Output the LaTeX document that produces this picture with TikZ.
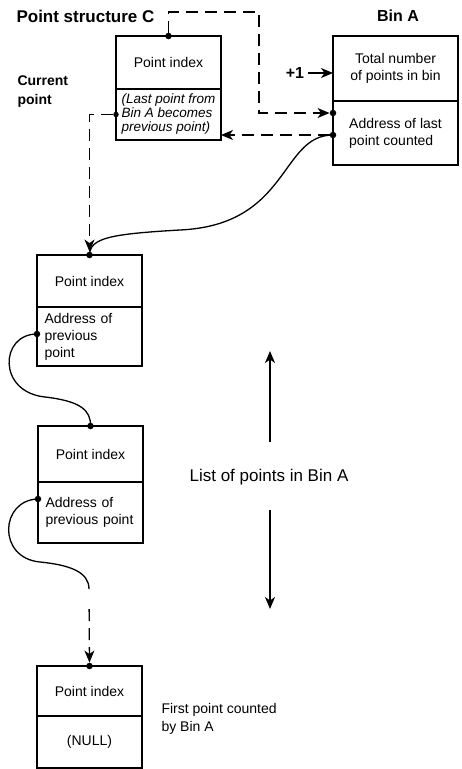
\documentclass[tikz,border=0pt]{standalone}
\usepackage{fontspec}
\setmainfont{Liberation Sans}
\usepackage{tikz}
\usetikzlibrary{arrows.meta, positioning, calc}
\newcommand{\txt}{\fontsize{14}{17}\selectfont}
\newcommand{\bigtxt}{\fontsize{17}{20}\selectfont}

\begin{document}
\begin{tikzpicture}[x=1pt,y=-1pt,
	cell/.style={draw,line width=1.2pt,minimum width=105pt,outer sep=0pt,inner sep=2pt,font=\txt},
	bincell/.style={cell,line width=2.2pt,minimum width=125pt},
	dot/.style={circle,fill,inner sep=0pt,minimum size=6.5pt},
	head/.style={font=\bfseries\bigtxt},
	dashline/.style={line width=1.3pt,dash pattern=on 12pt off 7pt},
	link/.style={line width=1.3pt},
	tip/.style={-{Stealth[length=12pt,width=10pt,inset=3.5pt]}}]
\useasboundingbox (0,0) rectangle (461,769);
% point structure C and bin A
\node[cell,minimum height=53pt,anchor=north west] (cIdx) at (116,36) {Point index};
\node[cell,minimum height=51pt,below=0pt of cIdx,align=left,font=\fontsize{13.5}{14}\selectfont\itshape] (cAddr) {(Last point from\\Bin A becomes\\previous point)};
\node[bincell,minimum height=65pt,anchor=north west,align=center] (binTop) at (333,36) {Total number\\of points in bin};
\node[bincell,minimum height=64pt,below=0pt of binTop,align=left] (binAddr) {Address of last\\point counted};
\node[head,anchor=west] (titleC) at (13,16) {Point structure C};
\node[head,font=\bfseries\fontsize{16}{19}\selectfont] (titleA) at (398,16) {Bin A};
\node[anchor=west,align=left,font=\bfseries\fontsize{14}{19}\selectfont] (cur) at (14,92) {Current\\point};
\node[font=\bfseries\fontsize{16}{19}\selectfont] (plus) at (295,73) {+1};
% list of points
\node[cell,minimum height=52pt,anchor=north west] (idx1) at (37,255) {Point index};
\node[cell,minimum height=59pt,below=0pt of idx1,text width=90pt,align=left] (addr1) {Address of\\previous\\point};
\node[cell,minimum height=56pt,anchor=north west] (idx2) at (38,426) {Point index};
\node[cell,minimum height=61pt,below=0pt of idx2,text width=90pt,align=left] (addr2) {Address of\\previous point};
\node[cell,minimum height=50pt,anchor=north west] (idx3) at (37,666) {Point index};
\node[cell,minimum height=52pt,below=0pt of idx3] (addr3) {(NULL)};
\node[font=\bigtxt] (lst) at (269,477) {List of points in Bin A};
\node[anchor=west,align=left,font=\fontsize{14}{18}\selectfont] (first) at (158,719) {First point counted\\by Bin A};
% dots
\node[dot] (dC) at (cIdx.north) {};
\node[dot,minimum size=5.5pt] (dCL) at (cAddr.west) {};
\node[dot] (dA1) at ([yshift=-12pt]binAddr.north west) {};
\node[dot] (dA2) at ([yshift=-34pt]binAddr.north west) {};
\node[dot] (d1) at (idx1.north) {};
\node[dot] (d1L) at ([yshift=-27pt]addr1.north west) {};
\node[dot] (d2) at (idx2.north) {};
\node[dot] (d2L) at ([yshift=-17pt]addr2.north west) {};
\node[dot] (d3) at (idx3.north) {};
\coordinate (tr) at (259,12);
\coordinate (g2) at (89,589);
\coordinate (upEnd) at (270,351);
\coordinate (upStart) at (270,442);
\coordinate (dnStart) at (270,510);
\coordinate (dnEnd) at (270,609);
% connectors
\draw[dashline,tip] (dC) |- (tr) |- (dA1);
\draw[dashline,tip] (dA2) -- (dA2 -| cAddr.east);
\draw[dashline,tip] (dCL) -| (d1);
\draw[link,tip] (plus) -- (plus -| binTop.west);
\draw[link] (dA2.center) .. controls (280,135) and (290,225) .. (180,230)
	.. controls (110,234) and (90,238) .. (d1.center);
\draw[link] (d1L.center) .. controls (0,334) and (-3,392) .. (45,397)
	.. controls (80,401) and (91,410) .. (d2.center);
\draw[link] (d2L.center) .. controls (0,500) and (-3,558) .. (40,562)
	.. controls (70,565) and (89,572) .. (g2);
\draw[dashline,tip,shorten <=20pt] (g2) -- (d3);
\draw[link,tip] (upStart) -- (upEnd);
\draw[link,tip] (dnStart) -- (dnEnd);
\end{tikzpicture}
\end{document}
